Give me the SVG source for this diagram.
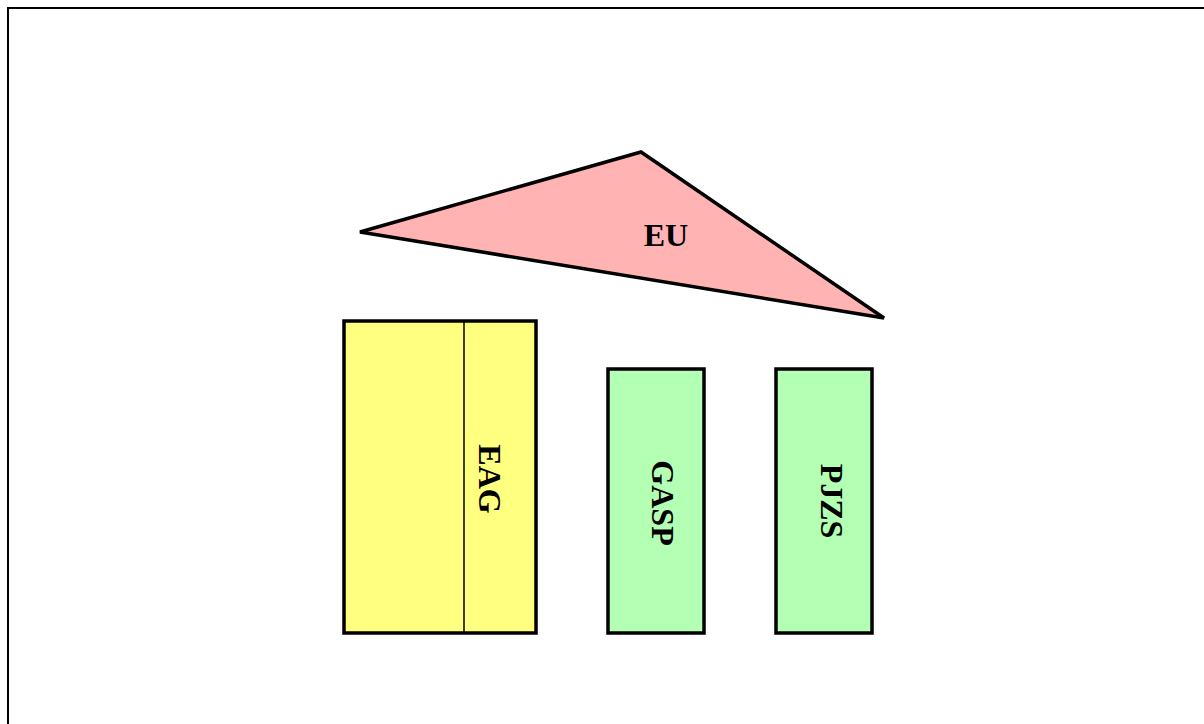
<svg xmlns="http://www.w3.org/2000/svg" width="1204" height="724" viewBox="0 0 1204 724">
<style>
.lbl{font-family:"Liberation Serif","Times New Roman",serif;font-weight:bold;font-size:32px;fill:#000;text-anchor:middle}
.shape{stroke:#000;stroke-width:3.5}
</style>
<rect x="0" y="0" width="1204" height="724" fill="#fff"/>
<rect x="8" y="8" width="1210" height="730" fill="none" stroke="#000" stroke-width="2"/>
<g id="EU">
<polygon class="shape" points="360,232 641,152 884,318" fill="#FFB3B3"/>
<text class="lbl" x="666" y="246">EU</text>
</g>
<g id="EAG">
<rect class="shape" x="344" y="321" width="192" height="312" fill="#FFFF80"/>
<line x1="464" y1="321" x2="464" y2="633" stroke="#000" stroke-width="1.5"/>
<text class="lbl" transform="translate(479,479) rotate(90)">EAG</text>
</g>
<g id="GASP">
<rect class="shape" x="608" y="369" width="96" height="264" fill="#B3FFB3"/>
<text class="lbl" transform="translate(652,503) rotate(90)">GASP</text>
</g>
<g id="PJZS">
<rect class="shape" x="776" y="369" width="96" height="264" fill="#B3FFB3"/>
<text class="lbl" transform="translate(821,501) rotate(90)">PJZS</text>
</g>
<g id="connectors"></g>
</svg>
